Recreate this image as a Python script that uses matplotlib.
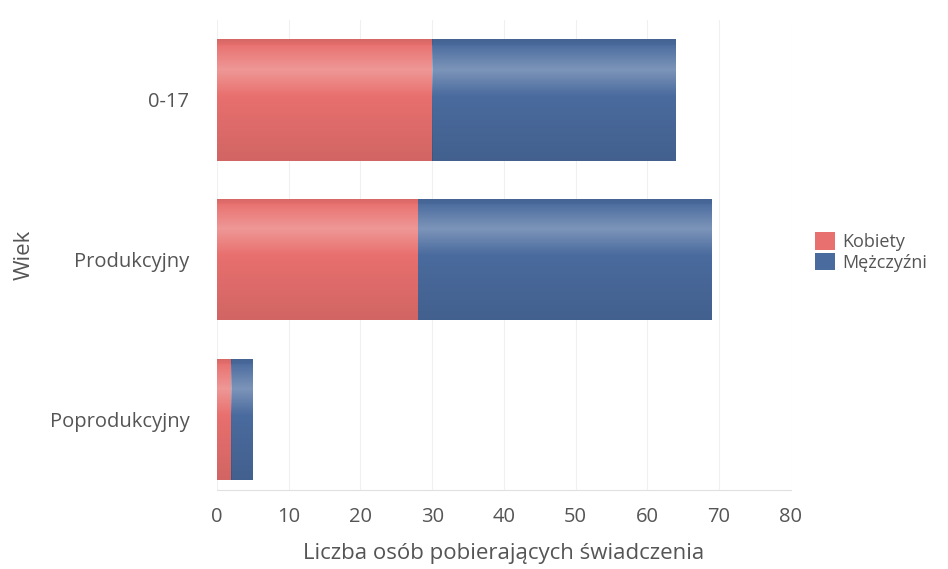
import matplotlib
matplotlib.use("Agg")
import matplotlib.pyplot as plt
import numpy as np

categories = ["0-17", "Produkcyjny", "Poprodukcyjny"]
kobiety = [30, 28, 2]
mezczyzni = [34, 41, 3]
xticks = [0, 10, 20, 30, 40, 50, 60, 70, 80]

plt.rcParams['font.family'] = ['Open Sans', 'DejaVu Sans']
txt = '#555555'

fig = plt.figure(figsize=(9.48, 5.69), dpi=100)
ax = fig.add_axes([0.229, 0.139, 0.605, 0.826])

y = np.arange(len(categories))
h = 0.76
b1 = ax.barh(y, kobiety, height=h, color='#E8706E', label='Kobiety', zorder=2)
b2 = ax.barh(y, mezczyzni, left=kobiety, height=h, color='#4A6B9E', label='Mężczyźni', zorder=2)

# cylinder-like shading overlay (row 0 = visual top of bar)
t = np.linspace(0, 1, 200)
light = np.clip(1 - np.abs(t - 0.25) / 0.22, 0, 1) * 0.28
dark = np.clip((t - 0.45) / 0.55, 0, 1) * 0.10 + np.clip((0.06 - t) / 0.06, 0, 1) * 0.08
rgba = np.zeros((200, 1, 4))
rgba[:, 0, :3] = np.where(light[:, None] > dark[:, None], 1.0, 0.0)
rgba[:, 0, 3] = np.maximum(light, dark)
for bars in (b1, b2):
    for p in bars:
        x0, y0 = p.get_x(), p.get_y()
        w, hh = p.get_width(), p.get_height()
        im = ax.imshow(rgba, extent=[x0, x0 + w, y0, y0 + hh], aspect='auto',
                       origin='lower', zorder=3, interpolation='bilinear')
        im.set_clip_path(p)

ax.set_xlim(0, 80)
ax.set_ylim(2.44, -0.5)
ax.set_xticks(xticks)
ax.set_yticks(y)
ax.set_yticklabels(categories)
ax.tick_params(axis='both', length=0, labelsize=14.5, colors=txt)
ax.tick_params(axis='y', pad=20)
ax.tick_params(axis='x', pad=12)
ax.grid(axis='x', color='#f0f0f0', linewidth=0.8, zorder=0)
for s in ['top', 'right', 'left']:
    ax.spines[s].set_visible(False)
ax.spines['bottom'].set_color('#e0e0e0')
ax.set_xlabel('Liczba osób pobierających świadczenia', fontsize=16, color=txt, labelpad=12)
ax.set_ylabel('Wiek', fontsize=16, color=txt, labelpad=11)

leg = ax.legend(loc='center left', bbox_to_anchor=(1.015, 0.506), frameon=False,
                fontsize=13, handlelength=1.1, handleheight=1.1, handletextpad=0.4,
                labelspacing=0.1, labelcolor=txt)

fig.savefig('out.png', dpi=100, facecolor='white')
